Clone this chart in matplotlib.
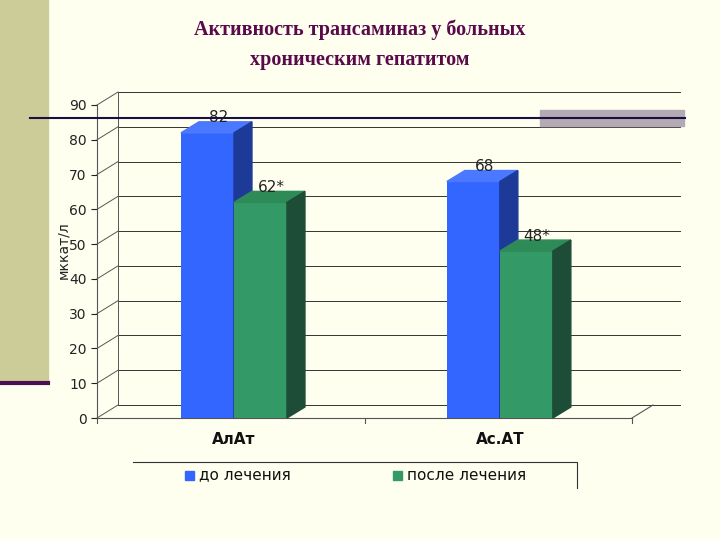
import matplotlib
matplotlib.use("Agg")
import matplotlib.pyplot as plt
from matplotlib.patches import Polygon, Rectangle
from matplotlib.lines import Line2D

categories = ["АлАт", "Ас.АТ"]
series_names = ["до лечения", "после лечения"]
before = [82, 68]
after = [62, 48]
before_labels = ["82", "68"]
after_labels = ["62*", "48*"]
yticks = [0, 10, 20, 30, 40, 50, 60, 70, 80, 90]

W, H = 720, 540
fig = plt.figure(figsize=(7.2, 5.4), dpi=100)
fig.patch.set_facecolor("#FFFFF0")

def fx(p): return p / W
def fy(p): return 1 - p / H

# slide decorations
fig.patches.append(Rectangle((0, fy(383)), fx(48), fy(0) - fy(383), transform=fig.transFigure, color="#CCCC99", zorder=0))
fig.lines.append(Line2D([0, fx(48)], [fy(383)] * 2, transform=fig.transFigure, color="#4B1050", lw=3))
fig.patches.append(Rectangle((fx(540), fy(126)), fx(144), fy(110) - fy(126), transform=fig.transFigure, color="#B4AAB4", zorder=0))
fig.lines.append(Line2D([fx(30), fx(685)], [fy(118)] * 2, transform=fig.transFigure, color="#1A1040", lw=1.5, zorder=5))

fig.text(0.5, fy(30), "Активность трансаминаз у больных", ha="center", va="center",
         family="Liberation Serif", fontsize=14.5, fontweight="bold", color="#5A0A4A")
fig.text(0.5, fy(60), "хроническим гепатитом", ha="center", va="center",
         family="Liberation Serif", fontsize=14.5, fontweight="bold", color="#5A0A4A")

ax = fig.add_axes([fx(97), fy(418), fx(680) - fx(97), fy(105) - fy(418)])
ax.set_facecolor("none")
xmax = 583 / 535 * 2
ax.set_xlim(0, xmax)
ax.set_ylim(0, 90)
for s in ax.spines.values():
    s.set_visible(False)
ax.set_xticks([])
ax.set_yticks(yticks)
ax.tick_params(axis="y", length=4, labelsize=10, colors="#222222")
ax.plot([0, 0], [0, 90], color="#555555", lw=0.8, clip_on=False)

dx = 21 / 583 * xmax
dy = 13 / 313 * 90
for v in yticks:
    ax.plot([dx, xmax], [v + dy, v + dy], color="#333333", lw=0.7, clip_on=False, zorder=0)
    ax.plot([0, dx], [v, v + dy], color="#555555", lw=0.7, clip_on=False, zorder=0)
ax.plot([dx, dx], [dy, 90 + dy], color="#555555", lw=0.7, clip_on=False)
ax.plot([0, 2.0], [0, 0], color="#555555", lw=0.8, clip_on=False)
ax.plot([2.0, 2.0 + dx], [0, dy], color="#555555", lw=0.8, clip_on=False)
for xt in [0, 1.0, 2.0]:
    ax.plot([xt, xt], [0, -1.5], color="#555555", lw=0.8, clip_on=False)

centers = [0.512, 1.506]
bw = 53 / 535 * 2
bdx = 18 / 583 * xmax
bdy = 11 / 313 * 90
colors = [("#3366FF", "#4A78FF", "#1E3A99"), ("#339966", "#2E8B57", "#1D4D36")]

def bar3d(x0, h, cols, label):
    front, top, side = cols
    ax.bar(x0, h, width=bw, align="edge", color=front, zorder=3)
    ax.add_patch(Polygon([(x0, h), (x0 + bdx, h + bdy), (x0 + bw + bdx, h + bdy), (x0 + bw, h)],
                         closed=True, color=top, zorder=3, clip_on=False))
    ax.add_patch(Polygon([(x0 + bw, 0), (x0 + bw + bdx, bdy), (x0 + bw + bdx, h + bdy), (x0 + bw, h)],
                         closed=True, color=side, zorder=3, clip_on=False))
    ax.text(x0 + bw / 2 + bdx * 0.6, h + 4.3, label, ha="center", va="center", fontsize=11, color="#222222", zorder=4)

for i, c in enumerate(centers):
    bar3d(c - bw, before[i], colors[0], before_labels[i])
    bar3d(c, after[i], colors[1], after_labels[i])
    ax.text(c, -6.3, categories[i], ha="center", va="center", fontsize=11, fontweight="bold", color="#111111")

fig.lines.append(Line2D([fx(133), fx(577), fx(577)], [fy(462), fy(462), fy(488)], transform=fig.transFigure, color="#333333", lw=0.8))
for (px, name, col) in [(185, series_names[0], colors[0][0]), (393, series_names[1], colors[1][0])]:
    fig.patches.append(Rectangle((fx(px), fy(480)), fx(9), fy(471) - fy(480), transform=fig.transFigure, color=col))
    fig.text(fx(px + 14), fy(475), name, ha="left", va="center", fontsize=11, color="#111111")

fig.text(fx(63), fy(250), "мккат/л", rotation=90, ha="center", va="center", fontsize=10, color="#222222")

fig.savefig("out.png", dpi=100, facecolor=fig.get_facecolor())
